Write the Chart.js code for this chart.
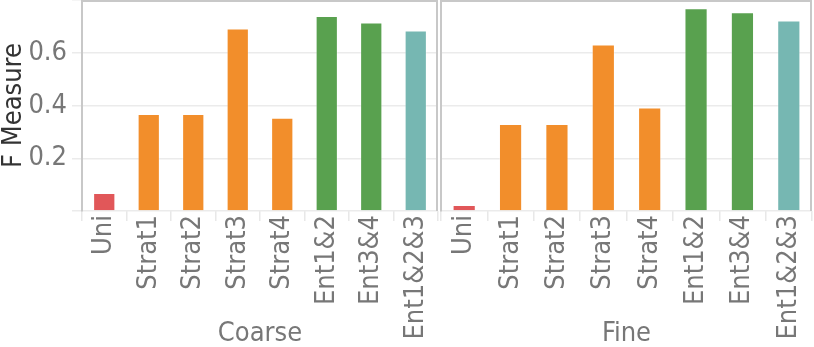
<!DOCTYPE html>
<html>
<head>
<meta charset="utf-8">
<script src="https://cdn.jsdelivr.net/npm/chart.js@4"></script>
<style>
  html, body { margin: 0; padding: 0; background: #fff; }
  #wrap { position: relative; width: 814px; height: 347px; }
  canvas { position: absolute; top: 0; }
</style>
</head>
<body>
<div id="wrap">
  <canvas id="coarse" width="439" height="347" style="left:0"></canvas>
  <canvas id="fine" width="375" height="347" style="left:439px"></canvas>
</div>
<script>
const categorias = ['Uni', 'Strat1', 'Strat2', 'Strat3', 'Strat4', 'Ent1&2', 'Ent3&4', 'Ent1&2&3'];
const valoresCoarse = [0.068, 0.368, 0.368, 0.692, 0.354, 0.739, 0.715, 0.684];
const valoresFine = [0.023, 0.330, 0.330, 0.631, 0.392, 0.769, 0.754, 0.722];
const coresBarras = ['#e15759', '#f28e2b', '#f28e2b', '#f28e2b', '#f28e2b', '#59a14f', '#59a14f', '#76b7b2'];
const ticksY = [0, 0.2, 0.4, 0.6, 0.8];

const fonte = "'DejaVu Sans Condensed', 'DejaVu Sans', sans-serif";
const corGrade = '#ebebeb';
const corBorda = '#c8c8c8';
const corTexto = '#777';

// moldura do painel (topo e lado direito)
const moldura = {
    id: 'moldura',
    afterDraw(chart) {
        const { ctx, chartArea: a } = chart;
        ctx.save();
        ctx.strokeStyle = corBorda;
        ctx.lineWidth = 2;
        ctx.beginPath();
        ctx.moveTo(a.left, a.top + 1);
        ctx.lineTo(a.right - 1, a.top + 1);
        ctx.lineTo(a.right - 1, a.bottom);
        ctx.stroke();
        ctx.restore();
    }
};

function criarPainel(id, valores, titulo, comEixoY) {
    const ctx = document.getElementById(id).getContext('2d');
    return new Chart(ctx, {
        type: 'bar',
        data: {
            labels: categorias,
            datasets: [{
                data: valores,
                backgroundColor: coresBarras,
                borderColor: 'rgba(255,255,255,0.35)',
                borderWidth: 1,
                barPercentage: 0.5,
                categoryPercentage: 1
            }]
        },
        options: {
            responsive: false,
            animation: false,
            layout: { padding: { top: 0, bottom: 0, left: 0, right: comEixoY ? 1 : 2 } },
            plugins: { legend: { display: false }, tooltip: { enabled: false } },
            scales: {
                x: {
                    grid: { offset: true, drawOnChartArea: false, drawTicks: true, tickLength: 10, color: '#e8e8e8', lineWidth: 1.5 },
                    border: { display: false },
                    ticks: {
                        minRotation: 90, maxRotation: 90, autoSkip: false, padding: -6,
                        color: corTexto, font: { family: fonte, size: 27, lineHeight: 1 }
                    },
                    title: {
                        display: true, text: titulo, color: corTexto,
                        font: { family: fonte, size: 27, lineHeight: 1 }, padding: { top: 0, bottom: 0 }
                    },
                    afterFit: s => { s.height = 136; s.paddingLeft = 0; s.paddingRight = 0; }
                },
                y: {
                    min: 0, max: 0.8,
                    afterBuildTicks: s => { s.ticks = ticksY.map(v => ({ value: v })); },
                    grid: { color: corGrade, lineWidth: 1.5, drawTicks: comEixoY, tickLength: 10 },
                    border: { display: true, color: corBorda, width: 2 },
                    ticks: {
                        display: comEixoY, padding: 5, color: corTexto,
                        font: { family: fonte, size: 27, lineHeight: 1 },
                        callback: v => (v === 0 || v === 0.8) ? '' : v.toFixed(1)
                    },
                    title: {
                        display: comEixoY, text: 'F Measure', color: '#333',
                        font: { family: fonte, size: 27, lineHeight: 1 }, padding: { top: 0, bottom: 0 }
                    },
                    afterFit: s => { s.width = comEixoY ? 82 : 2; s.paddingTop = 0; s.paddingBottom = 0; }
                }
            }
        },
        plugins: [moldura]
    });
}

criarPainel('coarse', valoresCoarse, 'Coarse', true);
criarPainel('fine', valoresFine, 'Fine', false);
</script>
</body>
</html>
